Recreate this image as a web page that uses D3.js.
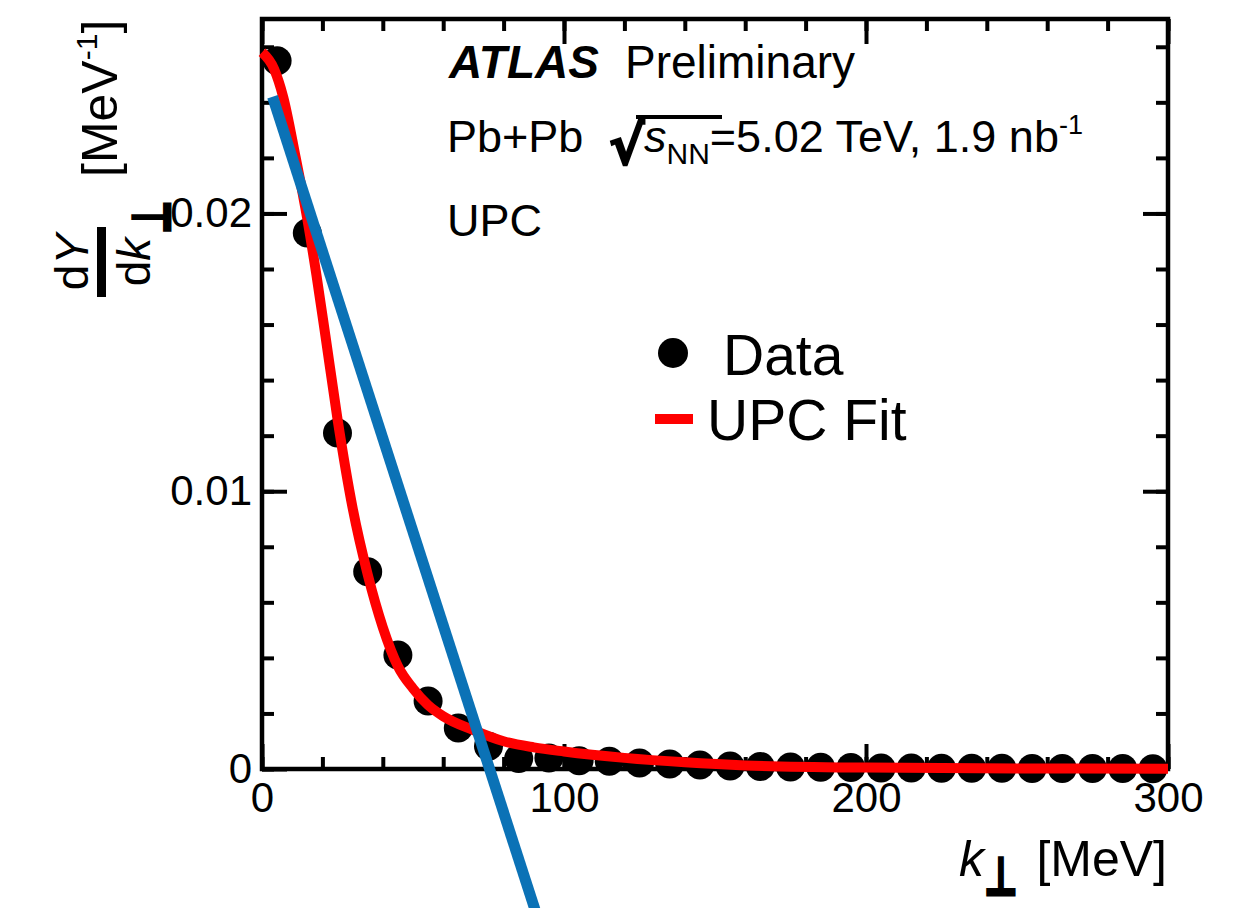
<!DOCTYPE html>
<html lang="en">
<head>
<meta charset="UTF-8"/>
<title>UPC k-perp yield</title>
<script src="https://d3js.org/d3.v7.min.js"></script>
<style>
	body {
		margin: 0;
		background: #fff;
	}

	text {
		font-family: "Liberation Sans", Arial, Helvetica, sans-serif;
		fill: #000;
	}

	.frame {
		fill: none;
		stroke: #000;
		stroke-width: 4.5;
	}

	.axis path.domain {
		display: none;
	}

	.axis line {
		stroke: #000;
		stroke-width: 4;
	}

	.axis text {
		font-size: 42px;
	}

	.fit {
		fill: none;
		stroke: #ff0000;
		stroke-width: 10px;
	}

	.straight {
		fill: none;
		stroke: #0b72b6;
		stroke-width: 11px;
	}

	.perp {
		font-family: "DejaVu Sans", sans-serif;
		font-weight: bold;
		stroke: #000;
		stroke-width: 2.5px;
	}
</style>
</head>
<body>
<div id="chart"></div>
<script>
	var w = 1255;
	var h = 908;

	// data points (bin centres in MeV, dY/dk in MeV^-1)
	var kBins = [5, 15, 25, 35, 45, 55, 65, 75, 85, 95,
		105, 115, 125, 135, 145, 155, 165, 175, 185, 195,
		205, 215, 225, 235, 245, 255, 265, 275, 285, 295];
	var yieldValues = [0.0255, 0.0193, 0.0121, 0.0071, 0.0041, 0.00245, 0.00148, 0.00082, 0.00038, 0.0004,
		0.0003, 0.00028, 0.00022, 0.00018, 0.00014, 0.00011, 0.00009, 0.00007, 0.00006, 0.00005,
		0.00004, 0.00004, 0.00003, 0.00003, 0.00003, 0.00002, 0.00002, 0.00002, 0.00002, 0.00001];

	// UPC fit curve
	var fitK = [0, 4, 7, 11, 15, 18, 21, 25, 30, 35, 40, 45, 50, 55, 60, 70, 80, 90, 100, 120, 140, 160, 200, 250, 300];
	var fitValues = [0.0258, 0.0252, 0.0242, 0.0221, 0.0198, 0.0178, 0.0156, 0.0126, 0.0094, 0.0070, 0.0051, 0.0037,
		0.0029, 0.0023, 0.0019, 0.0014, 0.0010, 0.00078, 0.00063, 0.0004, 0.00024, 0.00013, 0.00005, 0.00002, 0.00001];

	// straight blue line, two end points
	var lineK = [3.5, 90.5];
	var lineValues = [0.0242, -0.0051];

	var xTicks = [0, 100, 200, 300];
	var xTickLabels = ["0", "100", "200", "300"];
	var yTicks = [0, 0.01, 0.02];
	var yTickLabels = ["0", "0.01", "0.02"];
	var legendNames = ["Data", "UPC Fit"];

	var padL = 262, padR = 1168, padT = 19, padB = 769;

	var xScale = d3.scaleLinear().domain([0, 300]).range([padL, padR]);
	var yScale = d3.scaleLinear().domain([0, 0.027]).range([padB, padT]);

	var svg = d3.select("#chart")
		.append("svg")
		.attr("width", w)
		.attr("height", h);

	// minor ticks
	svg.append("g").attr("class", "axis")
		.attr("transform", "translate(0," + padB + ")")
		.call(d3.axisBottom(xScale).tickValues(xScale.ticks(15)).tickSize(-12).tickFormat(""));
	svg.append("g").attr("class", "axis")
		.attr("transform", "translate(0," + padT + ")")
		.call(d3.axisTop(xScale).tickValues(xScale.ticks(15)).tickSize(-12).tickFormat(""));
	svg.append("g").attr("class", "axis")
		.attr("transform", "translate(" + padL + ",0)")
		.call(d3.axisLeft(yScale).tickValues(yScale.ticks(14)).tickSize(-12).tickFormat(""));
	svg.append("g").attr("class", "axis")
		.attr("transform", "translate(" + padR + ",0)")
		.call(d3.axisRight(yScale).tickValues(yScale.ticks(14)).tickSize(-12).tickFormat(""));

	// major ticks with labels
	svg.append("g").attr("class", "axis")
		.attr("transform", "translate(0," + padB + ")")
		.call(d3.axisBottom(xScale).tickValues(xTicks).tickSize(-25).tickPadding(13)
			.tickFormat(function(d, i) { return xTickLabels[i]; }));
	svg.append("g").attr("class", "axis")
		.attr("transform", "translate(0," + padT + ")")
		.call(d3.axisTop(xScale).tickValues(xTicks).tickSize(-25).tickFormat(""));
	svg.append("g").attr("class", "axis")
		.attr("transform", "translate(" + padL + ",0)")
		.call(d3.axisLeft(yScale).tickValues(yTicks).tickSize(-25).tickPadding(10)
			.tickFormat(function(d, i) { return yTickLabels[i]; }));
	svg.append("g").attr("class", "axis")
		.attr("transform", "translate(" + padR + ",0)")
		.call(d3.axisRight(yScale).tickValues(yTicks).tickSize(-25).tickFormat(""));

	svg.selectAll(".axis text").attr("fill", "#000");

	svg.append("rect")
		.attr("class", "frame")
		.attr("x", padL)
		.attr("y", padT)
		.attr("width", padR - padL)
		.attr("height", padB - padT);

	// data points
	svg.selectAll(".dot")
		.data(kBins)
		.enter()
		.append("circle")
		.attr("class", "dot")
		.attr("cx", function(d) { return xScale(d); })
		.attr("cy", function(d, i) { return yScale(yieldValues[i]); })
		.attr("r", 14.5)
		.attr("fill", "#000");

	var line = d3.line()
		.x(function(d) { return xScale(d[0]); })
		.y(function(d) { return yScale(d[1]); });

	svg.append("path")
		.datum(fitK.map(function(k, i) { return [k, fitValues[i]]; }))
		.attr("class", "fit")
		.attr("d", line.curve(d3.curveMonotoneX));

	svg.append("path")
		.datum(lineK.map(function(k, i) { return [k, lineValues[i]]; }))
		.attr("class", "straight")
		.attr("d", d3.line()
			.x(function(d) { return xScale(d[0]); })
			.y(function(d) { return yScale(d[1]); }));

	// ATLAS label
	var atlas = svg.append("text").attr("x", 449).attr("y", 78).style("font-size", "46px");
	atlas.append("tspan").text("ATLAS").style("font-weight", "bold").style("font-style", "italic");
	atlas.append("tspan").attr("x", 625).text("Preliminary");

	var energy = svg.append("text").attr("x", 447).attr("y", 152).style("font-size", "45px");
	energy.append("tspan").text("Pb+Pb");
	energy.append("tspan").attr("x", 609).attr("dy", 12).attr("class", "perp")
		.style("font-size", "53px").style("stroke-width", "2px").text("\u221A");
	energy.append("tspan").attr("x", 644).attr("dy", -12).style("font-style", "italic").text("s");
	energy.append("tspan").attr("dy", 12).style("font-size", "30px").text("NN");
	energy.append("tspan").attr("dy", -12).text("=5.02 TeV, 1.9 nb");
	energy.append("tspan").attr("dy", -18).style("font-size", "27px").text("-1");
	svg.append("line")
		.attr("x1", 636).attr("x2", 722)
		.attr("y1", 117).attr("y2", 117)
		.attr("stroke", "#000").attr("stroke-width", 4);

	svg.append("text").attr("x", 447).attr("y", 236).style("font-size", "45px").text("UPC");

	// legend
	svg.append("circle").attr("cx", 673).attr("cy", 353).attr("r", 15).attr("fill", "#000");
	svg.append("line")
		.attr("x1", 655).attr("x2", 693)
		.attr("y1", 419).attr("y2", 419)
		.attr("stroke", "#ff0000").attr("stroke-width", 10);
	svg.append("text").attr("x", 723).attr("y", 375).style("font-size", "57px").text(legendNames[0]);
	svg.append("text").attr("x", 707).attr("y", 440).style("font-size", "57px").text(legendNames[1]);

	// x axis title
	svg.append("text").attr("x", 959).attr("y", 876).style("font-size", "50px")
		.style("font-style", "italic").text("k");
	svg.append("text").attr("class", "perp")
		.attr("transform", "translate(984,895) scale(0.8,1.15)")
		.style("font-size", "46px").text("\u22A5");
	svg.append("text").attr("x", 1167).attr("y", 876).attr("text-anchor", "end")
		.style("font-size", "50px").text("[MeV]");

	// y axis title, rotated
	var ylab = svg.append("g").attr("transform", "rotate(-90)");
	ylab.append("rect")
		.attr("x", -297).attr("y", 97)
		.attr("width", 70).attr("height", 9)
		.attr("fill", "#000");
	var num = ylab.append("text").attr("x", -262).attr("y", 88)
		.attr("text-anchor", "middle").style("font-size", "46px");
	num.append("tspan").text("d");
	num.append("tspan").style("font-style", "italic").text("Y");
	var den = ylab.append("text").attr("x", -262).attr("y", 150)
		.attr("text-anchor", "middle").style("font-size", "46px");
	den.append("tspan").text("d");
	den.append("tspan").style("font-style", "italic").text("k");
	ylab.append("text").attr("class", "perp")
		.attr("transform", "translate(-234,170) scale(0.8,1.15)")
		.style("font-size", "46px").text("\u22A5");
	var unit = ylab.append("text").attr("x", -177).attr("y", 117).style("font-size", "50px");
	unit.append("tspan").text("[MeV");
	unit.append("tspan").attr("dy", -20).style("font-size", "30px").text("-1");
	unit.append("tspan").attr("dy", 20).text("]");
</script>
</body>
</html>
